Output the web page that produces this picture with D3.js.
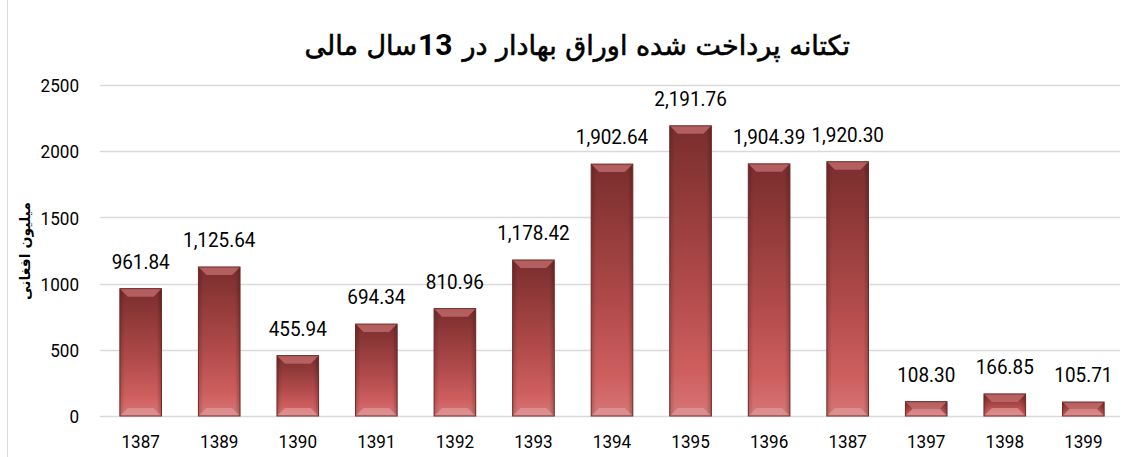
<!DOCTYPE html>
<html><head><meta charset="utf-8">
<script src="https://cdn.jsdelivr.net/npm/d3@7"></script>
<style>body{margin:0;background:#fff}svg{display:block}</style>
</head><body>
<script>
const categories = ["1387","1389","1390","1391","1392","1393","1394","1395","1396","1387 ","1397","1398","1399"];
const values = [961.84,1125.64,455.94,694.34,810.96,1178.42,1902.64,2191.76,1904.39,1920.30,108.30,166.85,105.71];
const yTicks = [0,500,1000,1500,2000,2500];
const titleRight = "تکتانه پرداخت شده  اوراق بهادار در";
const titleNum = "13";
const titleLeft = "سال مالی";
const yLabel = "میلیون افغانی";

const W=1125,H=457;
const svg=d3.select("body").append("svg").attr("width",W).attr("height",H);
const lblFont="Roboto,sans-serif";
const SX=0.9;

svg.append("rect").attr("x",7.5).attr("y",-2).attr("width",W+5).attr("height",H+5)
  .attr("fill","none").attr("stroke","#d9d9d9");

const x=d3.scaleBand().domain(categories).range([101,1123]).paddingInner(0.47).paddingOuter(0.24);
const y=d3.scaleLinear().domain([0,2500]).range([416,85]);

svg.append("g").selectAll("line").data(yTicks).join("line")
  .attr("x1",100).attr("x2",1120).attr("y1",d=>Math.round(y(d))+0.5).attr("y2",d=>Math.round(y(d))+0.5)
  .attr("stroke","#d9d9d9").attr("stroke-width",1.5);

const ya=svg.append("g").attr("transform","translate(79,0)")
  .call(d3.axisLeft(y).tickValues(yTicks).tickSize(0).tickPadding(0).tickFormat(d3.format("d")));
ya.select(".domain").remove();
ya.selectAll("text").attr("font-family",lblFont).attr("font-size",19).attr("fill","#000").attr("dy","0.35em")
  .attr("x",0).attr("transform",`scale(${SX},1)`);

const xa=svg.append("g").attr("transform","translate(0,441)")
  .call(d3.axisBottom(x).tickSize(0).tickPadding(0));
xa.select(".domain").remove();
xa.selectAll("text").attr("font-family",lblFont).attr("font-size",19).attr("fill","#000").attr("dy","0.35em")
  .attr("y",0).attr("transform",`scale(${SX},1)`).text(d=>d.trim());

const defs=svg.append("defs");
const g1=defs.append("linearGradient").attr("id","gBar").attr("x1",0).attr("y1",0).attr("x2",0).attr("y2",1);
g1.append("stop").attr("offset","0%").attr("stop-color","#7a2d2d");
g1.append("stop").attr("offset","55%").attr("stop-color","#b04a4a");
g1.append("stop").attr("offset","85%").attr("stop-color","#cf5f5f");
g1.append("stop").attr("offset","100%").attr("stop-color","#d67676");
const gSide=defs.append("linearGradient").attr("id","gSide").attr("x1",0).attr("y1",0).attr("x2",1).attr("y2",0);
gSide.append("stop").attr("offset","0%").attr("stop-color","#000").attr("stop-opacity",0.18);
gSide.append("stop").attr("offset","12%").attr("stop-color","#000").attr("stop-opacity",0);
gSide.append("stop").attr("offset","88%").attr("stop-color","#000").attr("stop-opacity",0);
gSide.append("stop").attr("offset","100%").attr("stop-color","#000").attr("stop-opacity",0.22);

const bars=svg.append("g").selectAll("g").data(values).join("g");
const bw=x.bandwidth();
bars.append("rect")
  .attr("x",(d,i)=>x(categories[i])).attr("y",d=>y(d))
  .attr("width",bw).attr("height",d=>y(0)-y(d))
  .attr("fill","url(#gBar)");
bars.append("rect")
  .attr("x",(d,i)=>x(categories[i])).attr("y",d=>y(d))
  .attr("width",bw).attr("height",d=>y(0)-y(d))
  .attr("fill","url(#gSide)");
const bev=8;
bars.append("path").attr("d",(d,i)=>{
  const x0=x(categories[i]),x1=x0+bw,t=y(d);
  const b=Math.min(bev,(y(0)-t)/2);
  return `M${x0},${t}L${x1},${t}L${x1-b},${t+b}L${x0+b},${t+b}Z`;
}).attr("fill","#c77070").attr("opacity",0.75);
bars.append("path").attr("d",(d,i)=>{
  const x0=x(categories[i]),x1=x0+bw,bt=y(0);
  const b=Math.min(bev,(bt-y(d))/2);
  return `M${x0},${bt}L${x1},${bt}L${x1-b},${bt-b}L${x0+b},${bt-b}Z`;
}).attr("fill","#e09a9a").attr("opacity",0.7);
bars.append("rect")
  .attr("x",(d,i)=>x(categories[i])).attr("y",d=>y(d))
  .attr("width",bw).attr("height",d=>y(0)-y(d))
  .attr("fill","none").attr("stroke","#6e2a2a").attr("stroke-width",1);

const fmt=d3.format(",.2f");
svg.append("g").selectAll("g").data(values).join("g")
  .attr("transform",(d,i)=>`translate(${x(categories[i])+bw/2},${y(d)-27}) scale(${SX},1)`)
  .append("text").attr("text-anchor","middle").attr("dy","0.35em")
  .attr("font-family",lblFont).attr("font-size",21).attr("fill","#000")
  .text(d=>fmt(d));

const tf="'DejaVu Sans',sans-serif";
const tR=svg.append("text").attr("x",850).attr("y",46).attr("text-anchor","end").attr("dy","0.35em")
  .attr("font-family",tf).attr("font-size",27).attr("fill","#000")
  .attr("stroke","#000").attr("stroke-width",0.6).text(titleRight);
const rw=tR.node().getComputedTextLength();
const nX=850-rw-10;
const tN=svg.append("text").attr("x",nX).attr("y",44).attr("text-anchor","end").attr("dy","0.35em")
  .attr("font-family",lblFont).attr("font-size",30).attr("font-weight","bold").attr("fill","#000").text(titleNum);
const nw=tN.node().getComputedTextLength();
svg.append("text").attr("x",nX-nw-1).attr("y",46).attr("text-anchor","end").attr("dy","0.35em")
  .attr("font-family",tf).attr("font-size",27).attr("fill","#000")
  .attr("stroke","#000").attr("stroke-width",0.6).text(titleLeft);

svg.append("text").attr("transform","translate(25,251) rotate(-90)").attr("text-anchor","middle").attr("dy","0.35em")
  .attr("font-family",tf).attr("font-weight","bold").attr("font-size",14)
  .attr("fill","#000").text(yLabel);
</script>
</body></html>
